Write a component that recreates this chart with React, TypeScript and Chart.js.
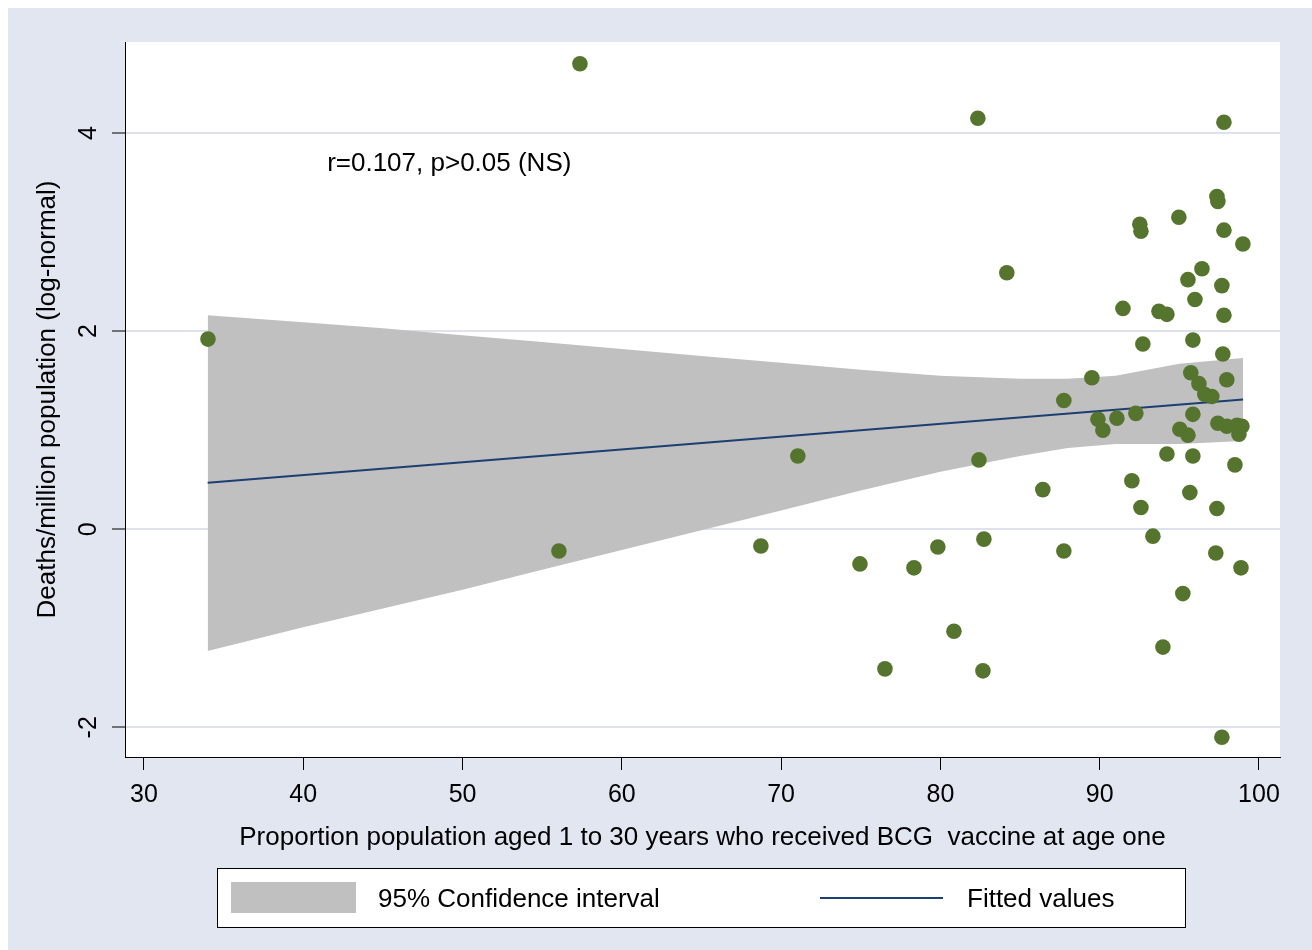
import React, { useEffect, useRef } from "react";
import { Chart, registerables } from "chart.js";

Chart.register(...registerables);

// ---- Data ----
const pointX = [
  34.02, 57.37, 56.05, 68.73, 71.05, 74.95, 76.52, 78.34, 79.84, 80.85,
  82.35, 82.42, 82.73, 82.67, 84.17, 86.43, 87.75, 87.75, 89.51, 89.89,
  90.2, 91.08, 91.46, 92.02, 92.27, 92.52, 92.59, 92.59, 92.71, 93.34,
  93.72, 94.22, 93.97, 94.22, 94.97, 95.03, 95.22, 95.54, 95.54, 95.66,
  95.72, 95.85, 95.85, 95.98, 95.85, 96.23, 96.42, 96.6, 97.04, 97.36,
  97.42, 97.29, 97.36, 97.42, 97.67, 97.67, 97.73, 97.8, 97.8, 97.8,
  97.98, 97.98, 98.49, 98.62, 98.74, 98.93, 98.87, 98.99,
];
const pointY = [
  1.92, 4.7, -0.22, -0.17, 0.74, -0.35, -1.41, -0.39, -0.18, -1.03,
  4.15, 0.7, -0.1, -1.43, 2.59, 0.4, 1.3, -0.22, 1.53, 1.11,
  1.0, 1.12, 2.23, 0.49, 1.17, 3.08, 3.01, 0.22, 1.87, -0.07,
  2.2, 2.17, -1.19, 0.76, 3.15, 1.01, -0.65, 2.52, 0.95, 0.37,
  1.58, 1.16, 0.74, 2.32, 1.91, 1.47, 2.63, 1.36, 1.34, 3.36,
  3.31, -0.24, 0.21, 1.07, 2.46, -2.1, 1.77, 4.11, 3.02, 2.16,
  1.51, 1.04, 0.65, 1.05, 0.96, 1.04, -0.39, 2.88,
];
const fitX = [34, 99];
const fitY = [0.47, 1.31];
const ciX = [34, 40, 45, 50, 55, 60, 65, 70, 75, 80, 85, 88, 91, 95, 99];
const ciUpper = [2.16, 2.09, 2.03, 1.96, 1.89, 1.82, 1.75, 1.68, 1.61, 1.55, 1.52, 1.52, 1.55, 1.67, 1.73];
const ciLower = [-1.23, -0.99, -0.8, -0.61, -0.41, -0.21, -0.01, 0.19, 0.39, 0.58, 0.74, 0.82, 0.86, 0.86, 0.89];
const xTicks = [30, 40, 50, 60, 70, 80, 90, 100];
const yTicks = [-2, 0, 2, 4];
const xRange = [28.81, 101.32];
const yRange = [-2.3, 4.92];
const annotationText = "r=0.107, p>0.05 (NS)";
const annotationPos = [41.5, 3.69];
const xTitle = "Proportion population aged 1 to 30 years who received BCG  vaccine at age one";
const yTitle = "Deaths/million population (log-normal)";
const ciLabel = "95% Confidence interval";
const fitLabel = "Fitted values";
const pointLabel = "Deaths/million population (log-normal)";

// ---- Styles ----
const W = 1304;
const H = 942;
const FONT = "'Liberation Sans', Arial, sans-serif";
const BG = "#e1e6f0";
const GRID = "#dde3ee";
const GREEN = "#55752f";
const NAVY = "#1c3f72";
const CI = "#c0c0c0";

const decorPlugin = {
  id: "decor",
  beforeDraw(chart: any) {
    const { ctx, chartArea } = chart;
    ctx.save();
    ctx.fillStyle = "#ffffff";
    ctx.fillRect(chartArea.left, chartArea.top, chartArea.right - chartArea.left, chartArea.bottom - chartArea.top);
    ctx.restore();
  },
  afterDraw(chart: any) {
    const { ctx } = chart;
    const ys = chart.scales.y;
    const xs = chart.scales.x;
    ctx.save();
    // y tick labels, rotated
    ctx.fillStyle = "#000";
    ctx.font = `25px ${FONT}`;
    ctx.textAlign = "center";
    ctx.textBaseline = "middle";
    ys.ticks.forEach((t: any) => {
      const py = ys.getPixelForValue(t.value);
      ctx.save();
      ctx.translate(81, py);
      ctx.rotate(-Math.PI / 2);
      ctx.fillText(String(t.value), 0, 0);
      ctx.restore();
    });
    // annotation
    ctx.font = `26px ${FONT}`;
    ctx.textAlign = "left";
    ctx.fillText(annotationText, xs.getPixelForValue(annotationPos[0]), ys.getPixelForValue(annotationPos[1]));

    // legend
    const ds = chart.data.datasets;
    ctx.fillStyle = "#fff";
    ctx.fillRect(209, 860, 968, 59);
    ctx.strokeStyle = "#000";
    ctx.lineWidth = 1;
    ctx.strokeRect(209.5, 860.5, 968, 59);
    ctx.fillStyle = CI;
    ctx.fillRect(223, 874, 125, 31);
    ctx.fillStyle = "#000";
    ctx.textBaseline = "middle";
    ctx.fillText(ds[2].label, 370, 892);
    ctx.strokeStyle = NAVY;
    ctx.lineWidth = 2;
    ctx.beginPath();
    ctx.moveTo(812, 890);
    ctx.lineTo(935, 890);
    ctx.stroke();
    ctx.fillText(ds[1].label, 959, 892);
    ctx.restore();
  },
};

export default function App() {
  const ref = useRef<HTMLCanvasElement | null>(null);
  useEffect(() => {
    if (!ref.current) return;
    const chart = new Chart(ref.current, {
      type: "scatter",
      data: {
        datasets: [
          {
            label: pointLabel,
            data: pointX.map((x, i) => ({ x, y: pointY[i] })),
            backgroundColor: GREEN,
            borderWidth: 0,
            pointRadius: 7.8,
            showLine: false,
          },
          {
            label: fitLabel,
            data: fitX.map((x, i) => ({ x, y: fitY[i] })),
            showLine: true,
            borderColor: NAVY,
            borderWidth: 2,
            pointRadius: 0,
            fill: false,
          },
          {
            label: ciLabel,
            data: ciX.map((x, i) => ({ x, y: ciUpper[i] })),
            showLine: true,
            borderWidth: 0,
            borderColor: "rgba(0,0,0,0)",
            backgroundColor: CI,
            pointRadius: 0,
            fill: "+1",
          },
          {
            label: "ci-lower",
            data: ciX.map((x, i) => ({ x, y: ciLower[i] })),
            showLine: true,
            borderWidth: 0,
            borderColor: "rgba(0,0,0,0)",
            pointRadius: 0,
            fill: false,
          },
        ],
      },
      options: {
        animation: false,
        responsive: false,
        devicePixelRatio: 1,
        layout: { padding: { left: 0, top: 34, right: 32, bottom: 97 } },
        plugins: { legend: { display: false }, tooltip: { enabled: false } },
        scales: {
          x: {
            type: "linear",
            min: xRange[0],
            max: xRange[1],
            afterBuildTicks: (s: any) => {
              s.ticks = xTicks.map((v) => ({ value: v }));
            },
            afterFit: (s: any) => {
              s.height = 96;
            },
            grid: { drawOnChartArea: false, tickLength: 13, tickColor: "#000", tickWidth: 1 },
            border: { display: true, color: "#000", width: 1 },
            ticks: { color: "#000", font: { family: FONT, size: 25 }, padding: 10, maxRotation: 0, autoSkip: false },
            title: { display: true, text: xTitle, color: "#000", font: { family: FONT, size: 26 }, padding: { top: 0, bottom: 0 } },
          },
          y: {
            type: "linear",
            min: yRange[0],
            max: yRange[1],
            afterBuildTicks: (s: any) => {
              s.ticks = yTicks.map((v) => ({ value: v }));
            },
            afterFit: (s: any) => {
              s.width = 117;
            },
            grid: { color: GRID, lineWidth: 2, tickLength: 13, tickColor: "#000", tickWidth: 1 },
            border: { display: true, color: "#000", width: 1 },
            ticks: { display: false },
            title: { display: true, text: yTitle, color: "#000", font: { family: FONT, size: 26 }, padding: { top: 24, bottom: 0 } },
          },
        },
      },
      plugins: [decorPlugin],
    } as any);
    return () => chart.destroy();
  }, []);
  return (
    <div style={{ position: "fixed", left: 8, top: 8, width: W, height: H, background: BG }}>
      <canvas ref={ref} width={W} height={H} style={{ display: "block", width: W, height: H }} />
    </div>
  );
}
